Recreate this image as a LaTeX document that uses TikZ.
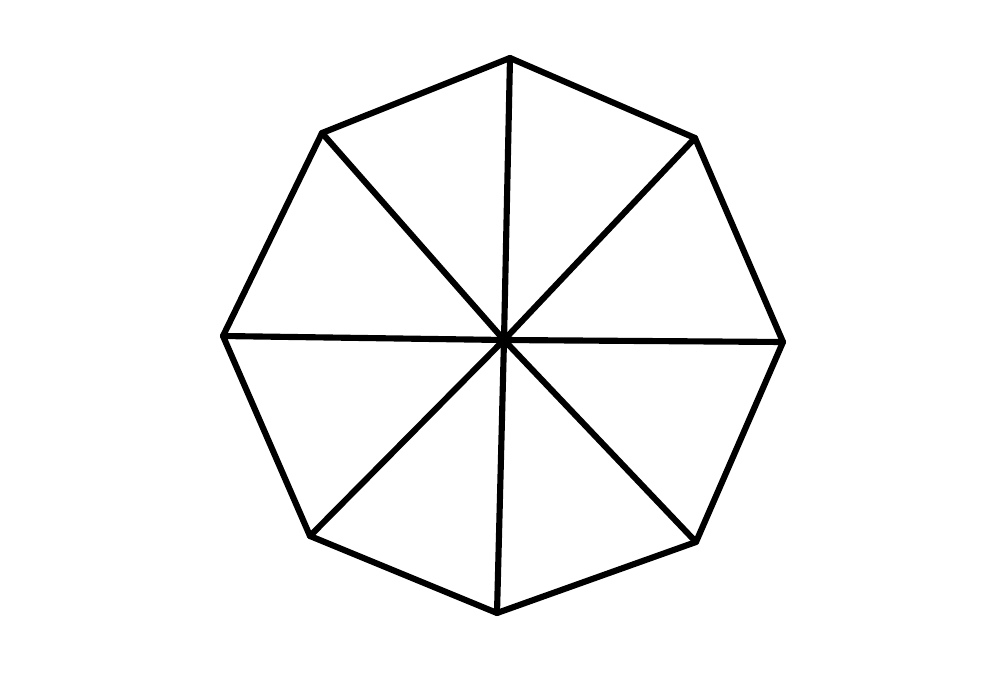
\documentclass[tikz,border=0pt]{standalone}
\begin{document}
\begin{tikzpicture}[x=0.75pt,y=-0.75pt,
  edge/.style={draw=black,line width=4.6pt,line join=round,line cap=round}]
\useasboundingbox[fill=white] (0,0) rectangle (1000,674);
\coordinate (c) at (504,340);
\coordinate (v1) at (510,58);
\coordinate (v2) at (695,138);
\coordinate (v3) at (783,342);
\coordinate (v4) at (696,542);
\coordinate (v5) at (497,613);
\coordinate (v6) at (310,536);
\coordinate (v7) at (223,336);
\coordinate (v8) at (322,133);
\draw[edge] (v1) -- (v2) -- (v3) -- (v4) -- (v5) -- (v6) -- (v7) -- (v8) -- cycle;
\foreach \i in {1,...,8} { \draw[edge] (c) -- (v\i); }
\end{tikzpicture}
\end{document}
